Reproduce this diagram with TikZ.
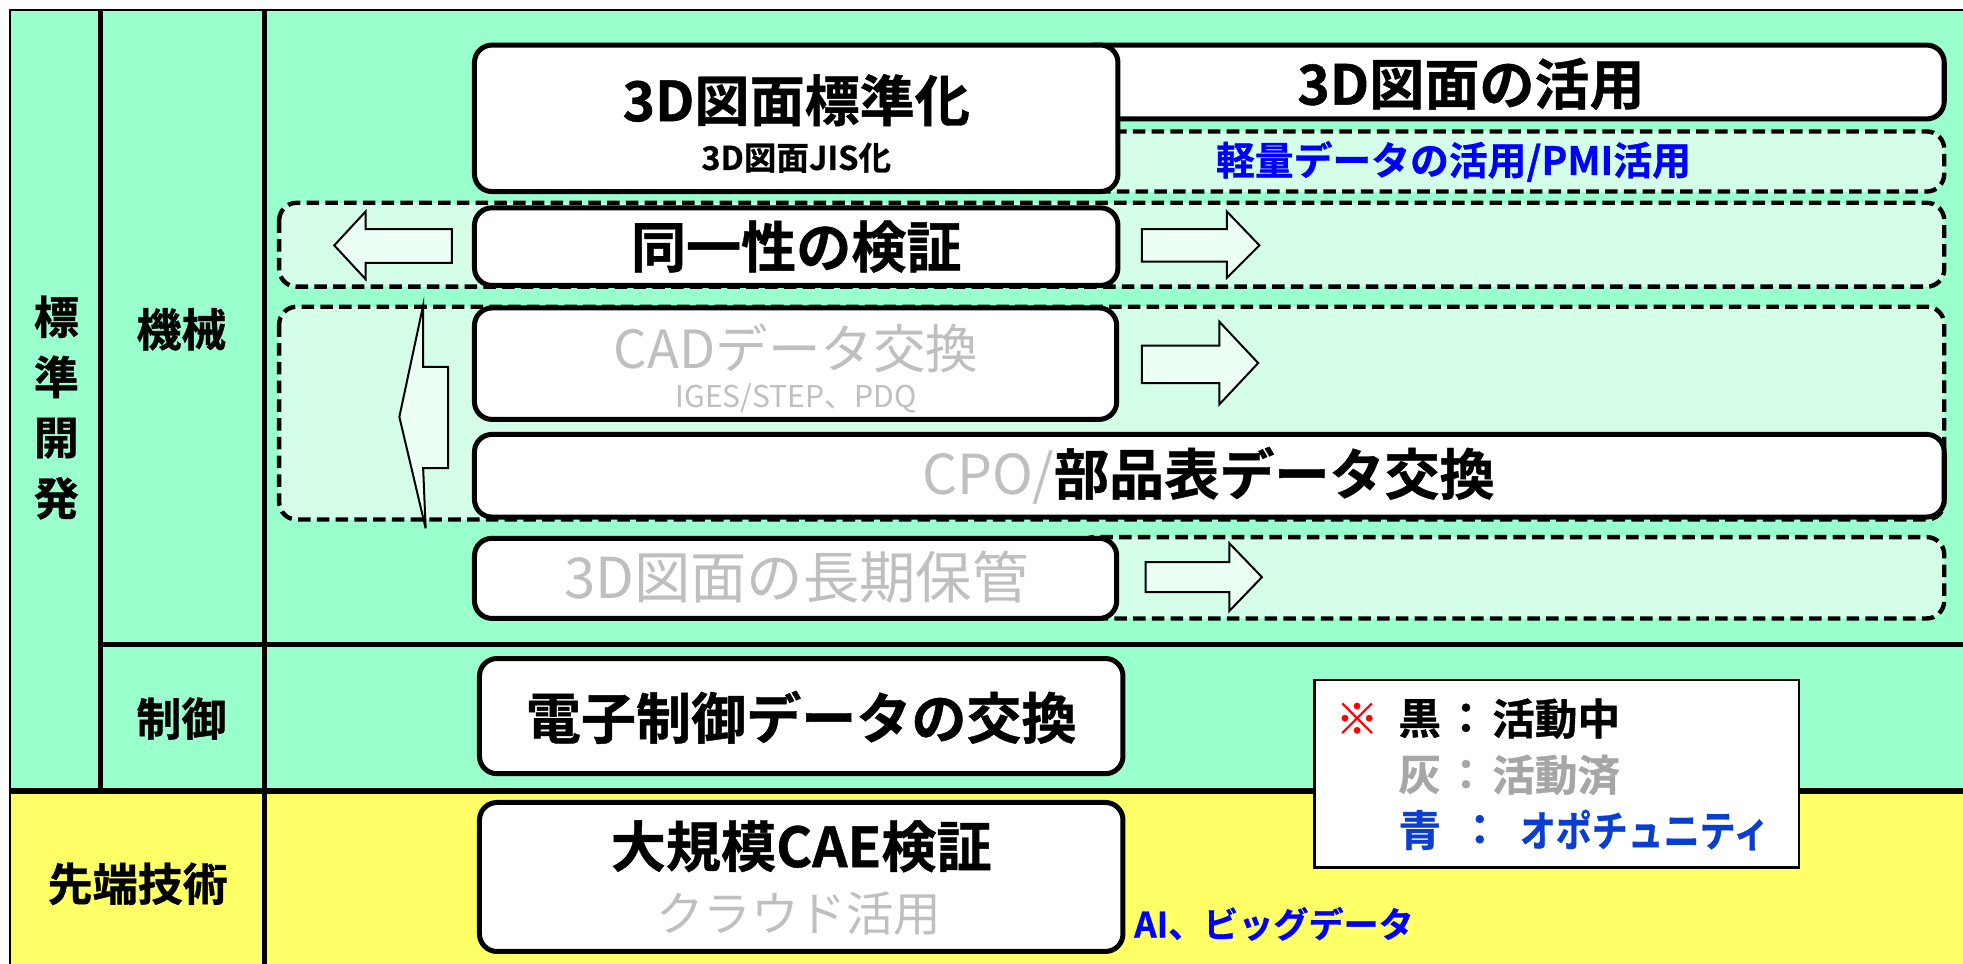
\documentclass[tikz,border=0pt]{standalone}
\usepackage{fontspec}
\setmainfont{Noto Sans CJK JP}[BoldFont={Noto Sans CJK JP Bold}, BoldFeatures={FakeBold=0.8}]
\definecolor{mint}{HTML}{99FFCC}
\definecolor{lightg}{HTML}{D4FEE8}
\definecolor{arrowg}{HTML}{EBFFF5}
\definecolor{yel}{HTML}{FFFF66}
\definecolor{doneg}{HTML}{BFBFBF}
\definecolor{leggray}{HTML}{A6A6A6}
\definecolor{oppb}{HTML}{0000FF}
\definecolor{legb}{HTML}{0A3ED0}
\newcommand\fsz[1]{\fontsize{#1}{#1}\selectfont}
\tikzset{
  wbox/.style={draw=black, line width=4pt, fill=white, rounded corners=14pt},
  dbox/.style={draw=black, line width=3.5pt, fill=lightg, rounded corners=14pt, dash pattern=on 10pt off 5pt},
  arr/.style={draw=black, line width=1.6pt, fill=arrowg, line join=miter},
  gridline/.style={line width=4pt, draw=black},
  txt/.style={inner sep=0pt, outer sep=0pt, anchor=center},
  big/.style={txt, font=\fsz{44}\bfseries},
  lbl/.style={txt, font=\fsz{36}\bfseries},
  done/.style={txt, text=doneg},
  leg/.style={txt, font=\fsz{34}\bfseries}
}
\begin{document}
\begin{tikzpicture}[x=1pt, y=-1pt]
\useasboundingbox (0,0) rectangle (1568,770);
% backgrounds
\fill[mint] (8,8) rectangle (1600,632);
\fill[yel] (8,632) rectangle (1600,800);
\draw[line width=2pt] (8,800) -- (8,8) -- (1600,8);
% grid lines
\draw[gridline] (80,8) -- (80,632);
\draw[gridline] (211,8) -- (211,800);
\draw[gridline] (80,515) -- (1600,515);
\draw[line width=5pt] (8,632) -- (1600,632);
% row labels
\node[lbl] (h1) at (45,253) {標};
\node[lbl] (h2) at (45,301) {準};
\node[lbl] (h3) at (45,350) {開};
\node[lbl] (h4) at (45,398) {発};
\node[lbl] (kikai) at (145,263) {機械};
\node[lbl] (seigyo) at (145,574) {制御};
\node[lbl] (sentan) at (110,706) {先端技術};
% dashed groups
\path[dbox] (860,105) rectangle (1553,153);
\path[dbox] (223,162) rectangle (1553,229);
\path[dbox] (223,245) rectangle (1553,415);
\path[dbox] (860,429) rectangle (1553,494);
% solid boxes
\path[wbox] (860,36) rectangle (1553,95);
\path[wbox] (379,36) rectangle (893,153);
\path[wbox] (379,166) rectangle (893,228);
\path[wbox] (379,246) rectangle (892,335);
\path[wbox] (379,347) rectangle (1553,413);
\path[wbox] (379,430) rectangle (892,494);
\path[wbox] (383,526) rectangle (897,618);
\path[wbox] (383,641) rectangle (897,760);
% arrows
\path[arr] (361,183) -- (292,183) -- (292,169) -- (267,196) -- (292,223) -- (292,210) -- (361,210) -- cycle;
\path[arr] (912,183) -- (980,183) -- (980,169) -- (1006,196) -- (980,222) -- (980,209) -- (912,209) -- cycle;
\path[arr] (912,276) -- (974,276) -- (974,257) -- (1005,290) -- (974,323) -- (974,306) -- (912,306) -- cycle;
\path[arr] (915,449) -- (982,449) -- (982,434) -- (1008,461) -- (982,488) -- (982,473) -- (915,473) -- cycle;
\path[arr] (358,293) -- (338,293) -- (338,244) -- (319,333) -- (340,422) -- (338,374) -- (358,374) -- cycle;
% texts
\node[big] (std) at (636,80) {3D図面標準化};
\node[txt, font=\fsz{26}\bfseries] (jis) at (636,126) {3D図面JIS化};
\node[big] (use) at (1175,67) {3D図面の活用};
\node[txt, font=\fsz{31}\bfseries, text=oppb] (pmi) at (1161,129) {軽量データの活用/PMI活用};
\node[big] (same) at (636,197) {同一性の検証};
\node[done, font=\fsz{42}] (cad) at (636,278) {CADデータ交換};
\node[done, font=\fsz{24}] (iges) at (636,318) {IGES/STEP、PDQ};
\node[txt, anchor=west, font=\fsz{44}] (cpo) at (737,380) {\textcolor{doneg}{CPO/}\textbf{部品表データ交換}};
\node[done, font=\fsz{45}] (keep) at (636,461) {3D図面の長期保管};
\node[big] (ecu) at (640,573) {電子制御データの交換};
\node[big] (cae) at (640,676) {大規模CAE検証};
\node[done, font=\fsz{38}] (cloud) at (638,730) {クラウド活用};
\node[txt, anchor=west, font=\fsz{28}\bfseries, text=oppb] (ai) at (906,738) {AI、ビッグデータ};
% legend
\node[draw=black, line width=2pt, fill=white, minimum width=387pt, minimum height=150pt, inner sep=0pt] (legend) at (1243.5,618) {};
\node[leg, text=red] (kome) at (1084,574) {※};
\node[leg] (kuro) at (1134,574) {黒};
\node[leg] (c1) at (1171,574) {：};
\node[leg, anchor=west] (act) at (1192,574) {活動中};
\node[leg, text=leggray] (hai) at (1134,619) {灰};
\node[leg, text=leggray] (c2) at (1171,619) {：};
\node[leg, anchor=west, text=leggray] (fin) at (1192,619) {活動済};
\node[leg, text=legb] (ao) at (1134,663) {青};
\node[leg, text=legb] (c3) at (1182,663) {：};
\node[leg, anchor=west, text=legb] (opp) at (1214,663) {\scalebox{0.845}[1]{オポチュニティ}};
\end{tikzpicture}
\end{document}
